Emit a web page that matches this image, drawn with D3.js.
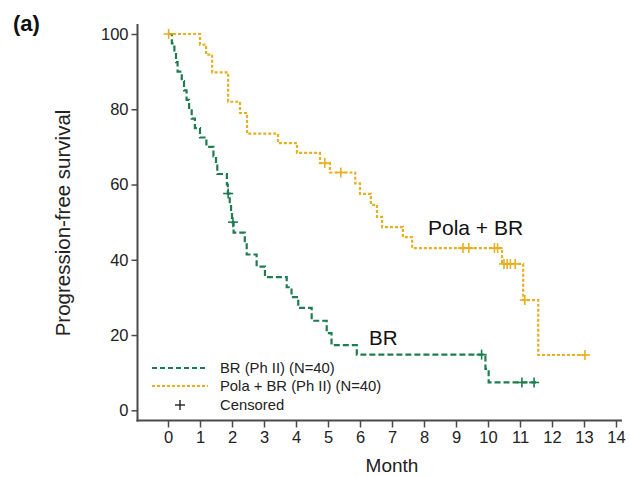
<!DOCTYPE html>
<html>
<head>
<meta charset="utf-8">
<script src="https://cdn.jsdelivr.net/npm/d3@7"></script>
<style>
  body { margin: 0; background: #fff; }
  svg { font-family: "Liberation Sans", Arial, sans-serif; }
</style>
</head>
<body>
<div id="chart"></div>
<script>
// step curves: [month, survival %]
const brSteps = [
  [0, 100], [0.12, 97.5], [0.2, 95], [0.25, 92.5], [0.3, 90], [0.43, 87.5],
  [0.5, 85], [0.58, 82.5], [0.66, 80], [0.74, 77.5], [0.84, 75], [1.0, 72.5],
  [1.2, 70], [1.42, 67.5], [1.5, 65], [1.54, 62.8], [1.84, 60], [1.87, 57.6],
  [1.93, 55], [1.97, 52.5], [2.0, 50], [2.05, 47.2], [2.4, 44.6], [2.46, 41.4],
  [2.77, 38.2], [3.03, 35.4], [3.71, 32.7], [3.86, 30.1], [4.07, 27.2],
  [4.49, 23.8], [4.96, 20.5], [5.11, 17.3], [5.9, 14.8], [9.92, 11.0],
  [10.02, 7.4], [11.5, 7.4]
];
const brCensor = [[1.88, 57.6], [2.03, 50], [9.8, 14.8], [11.06, 7.4], [11.44, 7.4]];

const polaSteps = [
  [0, 100], [1.0, 97.2], [1.19, 94.5], [1.38, 89.8], [1.88, 82], [2.25, 79],
  [2.47, 73.5], [3.44, 71], [4.03, 68.4], [4.75, 65.7], [5.06, 63.2],
  [5.85, 60.3], [6.0, 57.5], [6.34, 54.6], [6.53, 51.4], [6.69, 48.7],
  [7.34, 46], [7.63, 43.1], [10.44, 38.9], [11.1, 29.3], [11.57, 14.7],
  [13.03, 14.7]
];
const polaCensor = [
  [0.02, 100], [4.9, 65.7], [5.4, 63.2], [9.22, 43.1], [9.4, 43.1],
  [10.2, 43.1], [10.3, 43.1], [10.5, 38.9], [10.6, 38.9], [10.7, 38.9],
  [10.85, 38.9], [11.15, 29.3], [13.03, 14.7]
];

const xTicks = d3.range(0, 15);
const yTicks = [0, 20, 40, 60, 80, 100];
const legendLabels = ["BR (Ph II) (N=40)", "Pola + BR (Ph II) (N=40)", "Censored"];

const W = 630, H = 477;
const green = "#1e7d4e", gold = "#e7b021", axisCol = "#4a4a4a";

const svg = d3.select("#chart").append("svg")
  .attr("width", W).attr("height", H);

const x = d3.scaleLinear().domain([0, 14]).range([168, 616]);
const y = d3.scaleLinear().domain([0, 100]).range([410.3, 34]);

// axes
const yAxis = svg.append("g")
  .attr("transform", "translate(137.5,0)")
  .call(d3.axisLeft(y).tickValues(yTicks).tickSize(6).tickPadding(3));
yAxis.select(".domain").remove();
yAxis.selectAll("line").attr("stroke", axisCol).attr("stroke-width", 1.5);
yAxis.selectAll("text").attr("font-size", 16.5).attr("fill", "#222")
  .attr("font-family", "Liberation Sans, Arial, sans-serif");

const xAxis = svg.append("g")
  .attr("transform", "translate(0,420.5)")
  .call(d3.axisBottom(x).tickValues(xTicks).tickSize(7).tickPadding(4));
xAxis.select(".domain").remove();
xAxis.selectAll("line").attr("stroke", axisCol).attr("stroke-width", 1.5);
xAxis.selectAll("text").attr("font-size", 16.5).attr("fill", "#222")
  .attr("font-family", "Liberation Sans, Arial, sans-serif");

svg.append("line").attr("x1", 137.5).attr("x2", 137.5).attr("y1", 24).attr("y2", 421.5)
  .attr("stroke", axisCol).attr("stroke-width", 2);
svg.append("line").attr("x1", 136.5).attr("x2", 622).attr("y1", 420.5).attr("y2", 420.5)
  .attr("stroke", axisCol).attr("stroke-width", 2);

// axis titles
svg.append("text").attr("x", 392).attr("y", 472).attr("text-anchor", "middle")
  .attr("font-size", 19).attr("fill", "#222").text("Month");
svg.append("text").attr("transform", "translate(70,223) rotate(-90)")
  .attr("text-anchor", "middle").attr("font-size", 20.5).attr("fill", "#222")
  .text("Progression-free survival");
svg.append("text").attr("x", 13).attr("y", 31).attr("font-size", 22)
  .attr("font-weight", "bold").attr("fill", "#111").text("(a)");

// curves
const step = d3.line().x(d => x(d[0])).y(d => y(d[1])).curve(d3.curveStepAfter);

svg.append("path").datum(polaSteps).attr("d", step)
  .attr("fill", "none").attr("stroke", gold).attr("stroke-width", 2.2)
  .attr("stroke-dasharray", "3,2");
svg.append("path").datum(brSteps).attr("d", step)
  .attr("fill", "none").attr("stroke", green).attr("stroke-width", 2.2)
  .attr("stroke-dasharray", "6,3");

function censor(data, col) {
  const g = svg.append("g");
  data.forEach(d => {
    const cx = x(d[0]), cy = y(d[1]);
    g.append("line").attr("x1", cx - 5).attr("x2", cx + 5).attr("y1", cy).attr("y2", cy)
      .attr("stroke", col).attr("stroke-width", 1.6);
    g.append("line").attr("x1", cx).attr("x2", cx).attr("y1", cy - 5).attr("y2", cy + 5)
      .attr("stroke", col).attr("stroke-width", 1.6);
  });
}
censor(polaCensor, gold);
censor(brCensor, green);

// curve labels
svg.append("text").attr("x", 428).attr("y", 235).attr("font-size", 21)
  .attr("fill", "#111").text("Pola + BR");
svg.append("text").attr("x", 369).attr("y", 345).attr("font-size", 20.5)
  .attr("fill", "#111").text("BR");

// legend
const legY = [368, 386, 405];
svg.append("line").attr("x1", 152).attr("x2", 208).attr("y1", legY[0]).attr("y2", legY[0])
  .attr("stroke", green).attr("stroke-width", 2).attr("stroke-dasharray", "5,3");
svg.append("line").attr("x1", 152).attr("x2", 208).attr("y1", legY[1]).attr("y2", legY[1])
  .attr("stroke", gold).attr("stroke-width", 2).attr("stroke-dasharray", "3,2");
svg.append("line").attr("x1", 175).attr("x2", 185).attr("y1", legY[2]).attr("y2", legY[2])
  .attr("stroke", "#222").attr("stroke-width", 1.4);
svg.append("line").attr("x1", 180).attr("x2", 180).attr("y1", legY[2] - 5).attr("y2", legY[2] + 5)
  .attr("stroke", "#222").attr("stroke-width", 1.4);
legendLabels.forEach((t, i) => {
  svg.append("text").attr("x", 220).attr("y", legY[i]).attr("dy", "0.35em")
    .attr("font-size", 14.8).attr("fill", "#222").text(t);
});
</script>
</body>
</html>
